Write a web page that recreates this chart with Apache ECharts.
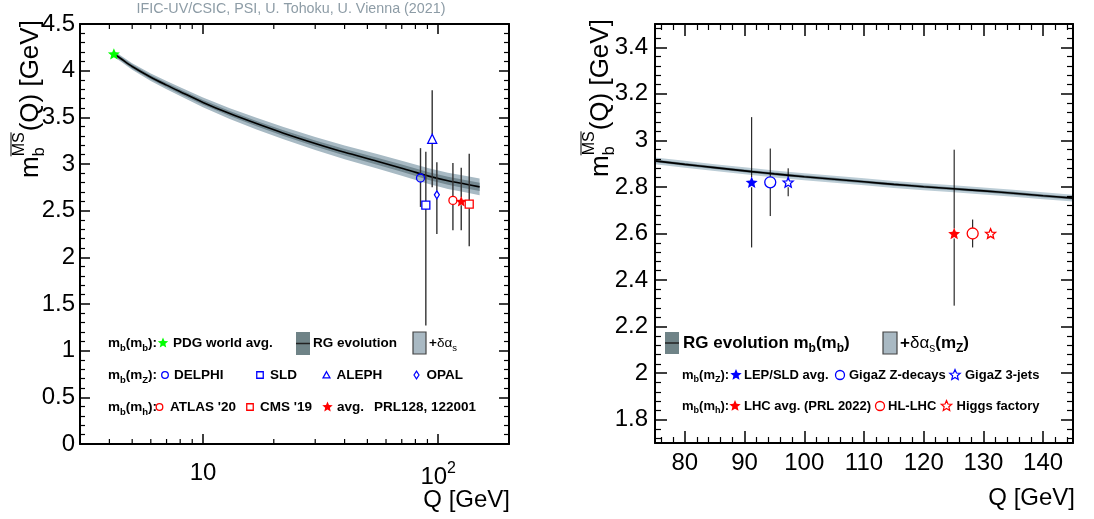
<!DOCTYPE html>
<html><head><meta charset="utf-8">
<script src="https://cdn.jsdelivr.net/npm/echarts@6/dist/echarts.min.js"></script>
<style>html,body{margin:0;padding:0;background:#fff}#c{width:1094px;height:519px}</style>
</head><body><div id="c"></div>
<script>
// ================= DATA =================
// Left panel: RG evolution of m_b(Q)
const leftCurveQ = [4.18, 4.5, 5, 6, 7, 8, 10, 13, 17, 22, 30, 40, 55, 70, 91.19, 110, 130, 150];
const leftCurveM = [4.18, 4.125, 4.045, 3.93, 3.845, 3.775, 3.66, 3.54, 3.43, 3.33, 3.22, 3.125, 3.03, 2.955, 2.87, 2.82, 2.785, 2.755];
const leftDarkHalf = [0.02, 0.02, 0.021, 0.022, 0.023, 0.024, 0.025, 0.027, 0.029, 0.031, 0.033, 0.035, 0.037, 0.039, 0.041, 0.043, 0.044, 0.045];
const leftLightHalf = [0.03, 0.032, 0.035, 0.04, 0.044, 0.047, 0.052, 0.057, 0.062, 0.066, 0.07, 0.074, 0.078, 0.081, 0.084, 0.087, 0.089, 0.09];
// m_b(m_b) PDG world average
const pdgQ = [4.18];
const pdgM = [4.18];
// m_b(m_Z) measurements: DELPHI, SLD, ALEPH, OPAL (Q shifted for display)
const mzNames = ['DELPHI', 'SLD', 'ALEPH', 'OPAL'];
const mzQ = [84.1, 88.6, 94.3, 98.7];
const mzM = [2.85, 2.56, 3.27, 2.67];
const mzUp = [0.32, 0.57, 0.52, 0.35];
const mzDn = [0.31, 1.29, 0.52, 0.42];
// m_b(m_h) measurements: ATLAS '20, CMS '19, avg.
const mhNames = ["ATLAS '20", "CMS '19", 'avg.'];
const mhQ = [115.5, 135.5, 125.3];
const mhM = [2.61, 2.57, 2.60];
const mhUp = [0.40, 0.54, 0.36];
const mhDn = [0.32, 0.45, 0.31];
// Left axes
const leftXMin = 3, leftXMax = 200;
const leftXMinorTicks = [4, 5, 6, 7, 8, 9, 20, 30, 40, 50, 60, 70, 80, 90];
const leftYMin = 0, leftYMax = 4.5, leftYStep = 0.5;

// Right panel: RG evolution zoom
const rightCurveQ = [75, 80, 85, 91.19, 95, 100, 105, 110, 115, 120, 125, 130, 135, 140, 145];
const rightCurveM = [2.912, 2.897, 2.883, 2.866, 2.856, 2.844, 2.833, 2.822, 2.811, 2.801, 2.792, 2.783, 2.773, 2.762, 2.752];
const rightDarkHalf = [0.006, 0.006, 0.006, 0.006, 0.006, 0.006, 0.006, 0.006, 0.006, 0.006, 0.006, 0.006, 0.006, 0.006, 0.006];
const rightLightHalf = [0.015, 0.015, 0.015, 0.015, 0.015, 0.015, 0.015, 0.015, 0.015, 0.015, 0.015, 0.015, 0.015, 0.015, 0.015];
// m_b(m_Z): LEP/SLD avg., GigaZ Z-decays, GigaZ 3-jets
const zNames = ['LEP/SLD avg.', 'GigaZ Z-decays', 'GigaZ 3-jets'];
const zQ = [91.19, 94.3, 97.3];
const zM = [2.82, 2.82, 2.82];
const zUp = [0.28, 0.145, 0.06];
const zDn = [0.28, 0.145, 0.06];
// m_b(m_h): LHC avg., HL-LHC, Higgs factory
const hNames = ['LHC avg. (PRL 2022)', 'HL-LHC', 'Higgs factory'];
const hQ = [125.1, 128.2, 131.2];
const hM = [2.60, 2.60, 2.60];
const hUp = [0.36, 0.06, 0.01];
const hDn = [0.31, 0.06, 0.01];
// Right axes
const rightXMin = 75, rightXMax = 145;
const rightXLabels = [80, 90, 100, 110, 120, 130, 140];
const rightYMin = 1.7, rightYMax = 3.5;
const rightYLabels = [1.8, 2, 2.2, 2.4, 2.6, 2.8, 3, 3.2, 3.4];

// ================= STYLE =================
const FONT = '"Liberation Sans", Arial, Helvetica, sans-serif';
const BLUE = '#0000ff', RED = '#ff0000', GREEN = '#00ff00';
const STAR = 'path://M0,-10L2.6,-3.6L9.5,-3.1L4.3,1.4L5.9,8.1L0,4.5L-5.9,8.1L-4.3,1.4L-9.5,-3.1L-2.6,-3.6Z';

// minor tick lists for right panel (tick positions, not data)
function steps(a, b, s, skip) { const r = []; for (let v = a; v <= b + 1e-9; v += s) { const vv = Math.round(v * 1000) / 1000; if (!skip.some(k => Math.abs(k - vv) < 1e-6)) r.push(vv); } return r; }
const rightXMinor = steps(76, 144, 2, rightXLabels);
const rightYMinor = steps(1.72, 3.48, 0.04, rightYLabels);

const lineSt = { color: '#000', width: 2 };
function axisBase(o) {
  return Object.assign({ axisLine: { show: true, onZero: false, lineStyle: lineSt }, splitLine: { show: false }, minorSplitLine: { show: false }, axisLabel: { show: false }, axisTick: { show: false }, z: 10 }, o);
}
function logLabel(v) {
  if (Math.abs(v - 10) < 1e-6) return '{n|10}';
  if (Math.abs(v - 100) < 1e-6) return '{n|10}{e|2}';
  return '';
}
const tickLbl = { show: true, color: '#000', fontFamily: FONT, fontSize: 24 };

const xAxes = [
  axisBase({ gridIndex: 0, type: 'log', logBase: 10, min: leftXMin, max: leftXMax, position: 'bottom',
    axisTick: { show: true, inside: true, length: 10, lineStyle: { color: '#000', width: 1.5 } },
    axisLabel: Object.assign({}, tickLbl, { margin: 17, showMinLabel: false, showMaxLabel: false, formatter: logLabel,
      rich: { n: { fontFamily: FONT, fontSize: 24, color: '#000' }, e: { fontFamily: FONT, fontSize: 16, color: '#000', padding: [0, 0, 16, 0] } } }) }),
  axisBase({ gridIndex: 0, type: 'log', logBase: 10, min: leftXMin, max: leftXMax, position: 'top',
    axisTick: { show: true, inside: true, length: 10, lineStyle: { color: '#000', width: 1.5 } } }),
  axisBase({ gridIndex: 1, type: 'value', min: rightXMin, max: rightXMax, position: 'bottom',
    axisTick: { show: true, inside: true, length: 12, customValues: rightXLabels, lineStyle: { color: '#000', width: 1.5 } },
    axisLabel: Object.assign({}, tickLbl, { margin: 8, customValues: rightXLabels }) }),
  axisBase({ gridIndex: 1, type: 'value', min: rightXMin, max: rightXMax, position: 'bottom', axisLine: { show: false },
    axisTick: { show: true, inside: true, length: 6, customValues: rightXMinor, lineStyle: { color: '#000', width: 1.2 } } }),
  axisBase({ gridIndex: 1, type: 'value', min: rightXMin, max: rightXMax, position: 'top',
    axisTick: { show: true, inside: true, length: 12, customValues: rightXLabels, lineStyle: { color: '#000', width: 1.5 } } }),
  axisBase({ gridIndex: 1, type: 'value', min: rightXMin, max: rightXMax, position: 'top', axisLine: { show: false },
    axisTick: { show: true, inside: true, length: 6, customValues: rightXMinor, lineStyle: { color: '#000', width: 1.2 } } })
];
const yAxes = [
  axisBase({ gridIndex: 0, type: 'value', min: leftYMin, max: leftYMax, interval: leftYStep, position: 'left',
    axisTick: { show: true, inside: true, length: 10, lineStyle: { color: '#000', width: 1.5 } },
    minorTick: { show: true, splitNumber: 5, length: 5, lineStyle: { color: '#000', width: 1.2 } },
    axisLabel: Object.assign({}, tickLbl, { margin: 5 }) }),
  axisBase({ gridIndex: 0, type: 'value', min: leftYMin, max: leftYMax, interval: leftYStep, position: 'right',
    axisTick: { show: true, inside: true, length: 10, lineStyle: { color: '#000', width: 1.5 } },
    minorTick: { show: true, splitNumber: 5, length: 5, lineStyle: { color: '#000', width: 1.2 } } }),
  axisBase({ gridIndex: 1, type: 'value', min: rightYMin, max: rightYMax, position: 'left',
    axisTick: { show: true, inside: true, length: 12, customValues: rightYLabels, lineStyle: { color: '#000', width: 1.5 } },
    axisLabel: Object.assign({}, tickLbl, { margin: 7, customValues: rightYLabels }) }),
  axisBase({ gridIndex: 1, type: 'value', min: rightYMin, max: rightYMax, position: 'left', axisLine: { show: false },
    axisTick: { show: true, inside: true, length: 6, customValues: rightYMinor, lineStyle: { color: '#000', width: 1.2 } } }),
  axisBase({ gridIndex: 1, type: 'value', min: rightYMin, max: rightYMax, position: 'right',
    axisTick: { show: true, inside: true, length: 12, customValues: rightYLabels, lineStyle: { color: '#000', width: 1.5 } } }),
  axisBase({ gridIndex: 1, type: 'value', min: rightYMin, max: rightYMax, position: 'right', axisLine: { show: false },
    axisTick: { show: true, inside: true, length: 6, customValues: rightYMinor, lineStyle: { color: '#000', width: 1.2 } } })
];

// ================= SERIES BUILDERS =================
function bandSeries(xi, yi, Q, M, half, fill, z) {
  return { type: 'custom', xAxisIndex: xi, yAxisIndex: yi, z: z, silent: true, clip: true,
    data: [[Q[0], M[0]]],
    renderItem: function (p, api) {
      const up = Q.map((q, i) => api.coord([q, M[i] + half[i]]));
      const dn = Q.map((q, i) => api.coord([q, M[i] - half[i]])).reverse();
      return { type: 'polygon', shape: { points: up.concat(dn), smooth: 0 }, style: { fill: fill } };
    } };
}
function curveSeries(xi, yi, Q, M, width) {
  return { type: 'line', xAxisIndex: xi, yAxisIndex: yi, z: 3, silent: true, showSymbol: false, smooth: 0.3,
    data: Q.map((q, i) => [q, M[i]]), lineStyle: { color: '#000', width: width }, clip: true };
}
function errSeries(xi, yi, q, m, up, dn, gap, color, width) {
  return { type: 'custom', xAxisIndex: xi, yAxisIndex: yi, z: 4, silent: true,
    data: [[q, m, m - dn, m + up]],
    renderItem: function (p, api) {
      const c = api.coord([api.value(0), api.value(1)]);
      const lo = api.coord([api.value(0), api.value(2)]);
      const hi = api.coord([api.value(0), api.value(3)]);
      const ch = [];
      if (lo[1] > c[1] + gap) ch.push({ type: 'line', shape: { x1: c[0], y1: c[1] + gap, x2: c[0], y2: lo[1] }, style: { stroke: color, lineWidth: width } });
      if (hi[1] < c[1] - gap) ch.push({ type: 'line', shape: { x1: c[0], y1: hi[1], x2: c[0], y2: c[1] - gap }, style: { stroke: color, lineWidth: width } });
      return { type: 'group', children: ch };
    } };
}
function markSeries(xi, yi, q, m, sym, size, color, filled, name) {
  return { type: 'scatter', name: name, xAxisIndex: xi, yAxisIndex: yi, z: 5, silent: true,
    data: [[q, m]], symbol: sym, symbolSize: size, symbolKeepAspect: true,
    itemStyle: filled ? { color: color, opacity: 1 } : { color: 'rgba(0,0,0,0)', borderColor: color, borderWidth: 1.3, opacity: 1 } };
}
function logMinorTicks() {
  return { type: 'custom', xAxisIndex: 0, yAxisIndex: 0, z: 11, silent: true, clip: false,
    data: leftXMinorTicks.map(v => [v, leftYMin]),
    renderItem: function (p, api) {
      const a = api.coord([api.value(0), leftYMin]);
      const b = api.coord([api.value(0), leftYMax]);
      return { type: 'group', children: [
        { type: 'line', shape: { x1: a[0], y1: a[1], x2: a[0], y2: a[1] - 5 }, style: { stroke: '#000', lineWidth: 1.2 } },
        { type: 'line', shape: { x1: b[0], y1: b[1], x2: b[0], y2: b[1] + 5 }, style: { stroke: '#000', lineWidth: 1.2 } }] };
    } };
}

// marker styles (per point, same order as data arrays)
const mzStyle = [
  { sym: 'circle', size: 8, gap: 4 }, { sym: 'rect', size: 8, gap: 4 },
  { sym: 'triangle', size: 9, gap: 4.5 }, { sym: 'diamond', size: [5, 8], gap: 4 }];
const mhStyle = [
  { sym: 'circle', size: 8, gap: 4, filled: false }, { sym: 'rect', size: 8, gap: 4, filled: false },
  { sym: STAR, size: 11, gap: 4, filled: true }];
const zStyle = [
  { sym: STAR, size: 12, gap: 5, filled: true }, { sym: 'circle', size: 11, gap: 5.5, filled: false },
  { sym: STAR, size: 10, gap: 5, filled: false }];
const hStyle = zStyle;

const series = [];
// left
series.push(bandSeries(0, 0, leftCurveQ, leftCurveM, leftLightHalf, '#a8bac4', 1));
series.push(bandSeries(0, 0, leftCurveQ, leftCurveM, leftDarkHalf, '#748992', 2));
series.push(curveSeries(0, 0, leftCurveQ, leftCurveM, 1.6));
mzQ.forEach((q, i) => {
  series.push(errSeries(0, 0, q, mzM[i], mzUp[i], mzDn[i], mzStyle[i].gap, '#333', 1.4));
  series.push(markSeries(0, 0, q, mzM[i], mzStyle[i].sym, mzStyle[i].size, BLUE, false, mzNames[i]));
});
mhQ.forEach((q, i) => {
  series.push(errSeries(0, 0, q, mhM[i], mhUp[i], mhDn[i], mhStyle[i].gap, '#333', 1.4));
  series.push(markSeries(0, 0, q, mhM[i], mhStyle[i].sym, mhStyle[i].size, RED, mhStyle[i].filled, mhNames[i]));
});
series.push(markSeries(0, 0, pdgQ[0], pdgM[0], STAR, 12, GREEN, true, 'PDG world avg.'));
series.push(logMinorTicks());
// right
series.push(bandSeries(2, 2, rightCurveQ, rightCurveM, rightLightHalf, '#bccdd6', 1));
series.push(bandSeries(2, 2, rightCurveQ, rightCurveM, rightDarkHalf, '#738892', 2));
series.push(curveSeries(2, 2, rightCurveQ, rightCurveM, 1.6));
zQ.forEach((q, i) => {
  series.push(errSeries(2, 2, q, zM[i], zUp[i], zDn[i], zStyle[i].gap, '#000', 1));
  series.push(markSeries(2, 2, q, zM[i], zStyle[i].sym, zStyle[i].size, BLUE, zStyle[i].filled, zNames[i]));
});
hQ.forEach((q, i) => {
  series.push(errSeries(2, 2, q, hM[i], hUp[i], hDn[i], hStyle[i].gap, '#000', 1));
  series.push(markSeries(2, 2, q, hM[i], hStyle[i].sym, hStyle[i].size, RED, hStyle[i].filled, hNames[i]));
});

// ================= TEXT / LEGEND GRAPHICS =================
const mctx = document.createElement('canvas').getContext('2d');
function fontStr(size, bold) { return (bold ? 'bold ' : '') + size + 'px ' + FONT; }
function tw(t, size, bold) { mctx.font = fontStr(size, bold); return mctx.measureText(t).width; }
function txt(x, y, t, size, bold, color, align) {
  return { type: 'text', x: x, y: y, z: 100, silent: true,
    style: { text: t, font: fontStr(size, bold), fill: color || '#000', align: align || 'left', verticalAlign: 'middle' } };
}
function run(x, y, parts, out, color) {
  let cx = x;
  parts.forEach(p => {
    out.push(txt(cx, y + (p.dy || 0), p.t, p.s, p.b, p.c || color));
    if (p.adv !== false) cx += tw(p.t, p.s, p.b);
  });
  return cx;
}
function starPts(cx, cy, R, ri) {
  const pts = [];
  for (let k = 0; k < 10; k++) { const a = -Math.PI / 2 + k * Math.PI / 5; const r = k % 2 ? ri : R; pts.push([cx + r * Math.cos(a), cy + r * Math.sin(a)]); }
  return pts;
}
function gStar(cx, cy, R, color, filled) {
  return { type: 'polygon', z: 100, silent: true, shape: { points: starPts(cx, cy, R, R * 0.45) },
    style: filled ? { fill: color } : { fill: 'none', stroke: color, lineWidth: 1.2 } };
}
function gCircle(cx, cy, r, color) { return { type: 'circle', z: 100, silent: true, shape: { cx: cx, cy: cy, r: r }, style: { fill: 'none', stroke: color, lineWidth: 1.3 } }; }
function gRect(cx, cy, s, color) { return { type: 'rect', z: 100, silent: true, shape: { x: cx - s / 2, y: cy - s / 2, width: s, height: s }, style: { fill: 'none', stroke: color, lineWidth: 1.3 } }; }
function gTri(cx, cy, s, color) { return { type: 'polygon', z: 100, silent: true, shape: { points: [[cx, cy - s], [cx + s * 0.9, cy + s * 0.6], [cx - s * 0.9, cy + s * 0.6]] }, style: { fill: 'none', stroke: color, lineWidth: 1.3 } }; }
function gDia(cx, cy, w, h, color) { return { type: 'polygon', z: 100, silent: true, shape: { points: [[cx, cy - h], [cx + w, cy], [cx, cy + h], [cx - w, cy]] }, style: { fill: 'none', stroke: color, lineWidth: 1.2 } }; }
function gBox(x, y, w, h, fill, stroke, mid) {
  const r = [{ type: 'rect', z: 100, silent: true, shape: { x: x, y: y, width: w, height: h }, style: stroke ? { fill: fill, stroke: stroke, lineWidth: 1.2 } : { fill: fill } }];
  if (mid) r.push({ type: 'line', z: 101, silent: true, shape: { x1: x, y1: y + h / 2, x2: x + w, y2: y + h / 2 }, style: { stroke: '#222', lineWidth: 1.5 } });
  return r;
}
function mLabel(x, y, sub, out, s, ss) {
  return run(x, y, [{ t: 'm', s: s, b: true }, { t: 'b', s: ss, b: true, dy: 5 }, { t: '(m', s: s, b: true }, { t: sub, s: ss, b: true, dy: 5 }, { t: '):', s: s, b: true }], out);
}
function yTitle(cx, by, out) {
  const F = 26, S = 16, ch = [];
  let x = 0;
  ch.push(txt(x, 0, 'm', F, false));
  x += tw('m', F);
  ch.push(txt(x, 9, 'b', S, false));
  ch.push(txt(x, -11, 'MS', S, false));
  ch.push({ type: 'line', silent: true, shape: { x1: x, y1: -20, x2: x + tw('MS', S), y2: -20 }, style: { stroke: '#000', lineWidth: 1 } });
  x += tw('MS', S) + 1;
  ch.push(txt(x, 0, '(Q) [GeV]', F, false));
  out.push({ type: 'group', x: cx, y: by, rotation: Math.PI / 2, children: ch, z: 100 });
}

const G = [];
// top credit
G.push(txt(291, 9, 'IFIC-UV/CSIC, PSI, U. Tohoku, U. Vienna (2021)', 14.3, false, '#8d9ca6', 'center'));
// axis titles
yTitle(31, 178, G);
yTitle(601, 177, G);
G.push(txt(510, 500, 'Q [GeV]', 24, false, '#000', 'right'));
G.push(txt(1075, 498, 'Q [GeV]', 24, false, '#000', 'right'));

// left legend
const LS = 13.5, LSS = 9.5;
let ly = 343;
mLabel(108, ly, 'b', G, LS, LSS);
G.push(gStar(163, ly, 5.5, GREEN, true));
G.push(txt(173, ly, 'PDG world avg.', LS, true));
gBox(296, 332, 14, 23, '#6f8387', null, true).forEach(e => G.push(e));
G.push(txt(313, ly, 'RG evolution', LS, true));
gBox(413, 332, 13, 22, '#a9b9c3', '#444', false).forEach(e => G.push(e));
run(429, ly, [{ t: '+', s: LS, b: true }, { t: 'δα', s: LS, b: false }, { t: 's', s: LSS, b: false, dy: 5 }], G);
ly = 375;
mLabel(108, ly, 'Z', G, LS, LSS);
G.push(gCircle(165, ly, 3.3, BLUE)); G.push(txt(174, ly, 'DELPHI', LS, true));
G.push(gRect(260, ly, 6.5, BLUE)); G.push(txt(270, ly, 'SLD', LS, true));
G.push(gTri(326.5, ly + 0.5, 3.8, BLUE)); G.push(txt(336.5, ly, 'ALEPH', LS, true));
G.push(gDia(416.5, ly, 2.5, 3.8, BLUE)); G.push(txt(426.5, ly, 'OPAL', LS, true));
ly = 407;
mLabel(108, ly, 'h', G, LS, LSS);
G.push(gCircle(159.5, ly, 3.3, RED)); G.push(txt(170, ly, "ATLAS '20", LS, true));
G.push(gRect(250, ly, 6.5, RED)); G.push(txt(260, ly, "CMS '19", LS, true));
G.push(gStar(327.5, ly, 5.5, RED, true)); G.push(txt(337, ly, 'avg.', LS, true));
G.push(txt(374, ly, 'PRL128, 122001', LS, true));

// right legend
ly = 343;
gBox(665, 332, 14, 22, '#6f8387', null, true).forEach(e => G.push(e));
run(683, ly, [{ t: 'RG evolution m', s: 17, b: true }, { t: 'b', s: 12, b: true, dy: 6 }, { t: '(m', s: 17, b: true }, { t: 'b', s: 12, b: true, dy: 6 }, { t: ')', s: 17, b: true }], G);
gBox(883, 332, 14, 22, '#a9b9c3', '#444', false).forEach(e => G.push(e));
run(900, ly, [{ t: '+', s: 17, b: true }, { t: 'δα', s: 17, b: false }, { t: 's', s: 12, b: false, dy: 6 }, { t: '(m', s: 17, b: true }, { t: 'Z', s: 12, b: true, dy: 6 }, { t: ')', s: 17, b: true }], G);
ly = 375;
mLabel(682, ly, 'Z', G, 13, 9);
G.push(gStar(736, ly, 6, BLUE, true)); G.push(txt(744, ly, 'LEP/SLD avg.', 13, true));
G.push(gCircle(840, ly, 4.5, BLUE)); G.push(txt(849, ly, 'GigaZ Z-decays', 13, true));
G.push(gStar(955, ly, 5.5, BLUE, false)); G.push(txt(965, ly, 'GigaZ 3-jets', 13, true));
ly = 406;
mLabel(682, ly, 'h', G, 13, 9);
G.push(gStar(735, ly, 6, RED, true)); G.push(txt(744, ly, 'LHC avg. (PRL 2022)', 13, true));
G.push(gCircle(880, ly, 4.5, RED)); G.push(txt(888, ly, 'HL-LHC', 13, true));
G.push(gStar(946.5, ly, 5.5, RED, false)); G.push(txt(956.5, ly, 'Higgs factory', 13, true));

const option = {
  animation: false,
  backgroundColor: '#fff',
  grid: [{ left: 80, top: 24, width: 429, height: 420 }, { left: 655, top: 24, width: 418, height: 419 }],
  xAxis: xAxes,
  yAxis: yAxes,
  series: series,
  graphic: { elements: G }
};
const chart = echarts.init(document.getElementById('c'), null, { renderer: 'canvas' });
chart.setOption(option);
</script>
</body></html>
